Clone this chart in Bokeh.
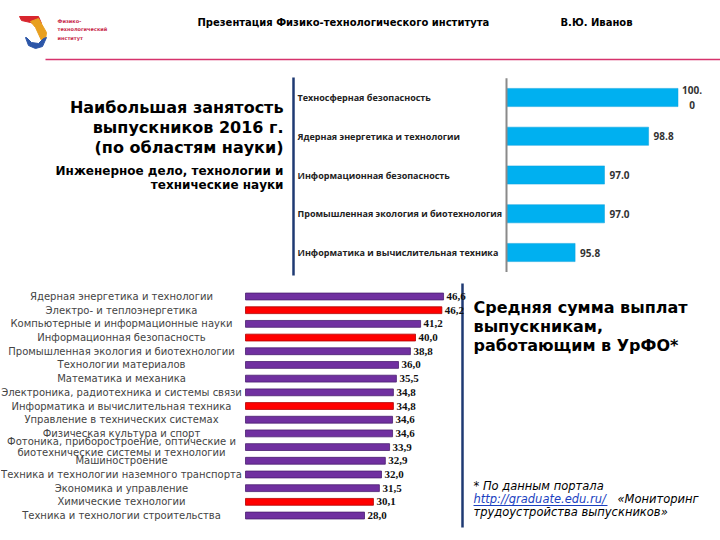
from bokeh.plotting import figure
from bokeh.layouts import column, row
from bokeh.models import Range1d
from bokeh.core.properties import value
from bokeh.embed import file_html
from bokeh.resources import INLINE

# ---------------- data ----------------
top_categories = [
    "Техносферная безопасность",
    "Ядерная энергетика и технологии",
    "Информационная безопасность",
    "Промышленная экология и биотехнология",
    "Информатика и вычислительная техника",
]
top_values = [100.0, 98.8, 97.0, 97.0, 95.8]

salary_categories = [
    "Ядерная энергетика и технологии",
    "Электро- и теплоэнергетика",
    "Компьютерные и информационные науки",
    "Информационная безопасность",
    "Промышленная экология и биотехнологии",
    "Технологии материалов",
    "Математика и механика",
    "Электроника, радиотехника и системы связи",
    "Информатика и вычислительная техника",
    "Управление в технических системах",
    "Физическая культура и спорт",
    "Фотоника, приборостроение, оптические и\nбиотехнические системы и технологии",
    "Машиностроение",
    "Техника и технологии наземного транспорта",
    "Экономика и управление",
    "Химические технологии",
    "Техника и технологии строительства",
]
salary_values = [46.6, 46.2, 41.2, 40.0, 38.8, 36.0, 35.5, 34.8, 34.8, 34.6,
                 34.6, 33.9, 32.9, 32.0, 31.5, 30.1, 28.0]
salary_highlight = [False, True, False, True, False, False, False, False, True,
                    False, False, False, False, False, False, True, False]

NAVY = "#1f3a73"
FONT = "DejaVu Sans"


def blank(w, h, xr, yr):
    p = figure(width=w, height=h, x_range=xr, y_range=yr, output_backend="svg",
               toolbar_location=None, min_border=0,
               x_axis_location=None, y_axis_location=None)
    p.grid.visible = False
    p.outline_line_color = None
    p.background_fill_color = "white"
    p.border_fill_color = "white"
    return p


def txt(p, x, y, s, size, color="#000000", style="normal", font=FONT,
        align="left", baseline="middle"):
    p.text(x=[x], y=[y], text=[s], text_font=value(font),
           text_font_size=f"{size}px", text_font_style=style,
           text_color=color, text_align=align, text_baseline=baseline)


# ---------------- header ----------------
hdr = blank(720, 68, Range1d(0, 720), Range1d(68, 0))
hdr.patch([19, 38, 41, 36, 30, 21], [16, 16, 23, 24, 22, 20], color="#d8262e")
hdr.patch([30, 38, 46, 45, 41, 35], [21, 18, 32, 39, 40, 27], color="#e8a020")
hdr.patch([25, 28, 35, 42, 46, 43, 38, 31, 26], [37, 45, 48, 46, 37, 38, 43, 42, 37],
          color="#2c56a8")
txt(hdr, 57, 20, "Физико-", 5, color="#c8284a", style="bold")
txt(hdr, 57, 28.5, "технологический", 5, color="#c8284a", style="bold")
txt(hdr, 57, 37, "институт", 5, color="#c8284a", style="bold")
txt(hdr, 197, 22, "Презентация Физико-технологического института", 10, style="bold")
txt(hdr, 560, 22, "В.Ю. Иванов", 10, style="bold")
hdr.segment(x0=[45], y0=[59], x1=[720], y1=[59], line_color="#d6336c", line_width=1.5)

# ---------------- middle left: titles ----------------
ml = blank(290, 210, Range1d(0, 290), Range1d(278, 68))
txt(ml, 283, 107, "Наибольшая занятость", 16, style="bold", align="right")
txt(ml, 283, 127, "выпускников 2016 г.", 16, style="bold", align="right")
txt(ml, 283, 147, "(по областям науки)", 16, style="bold", align="right")
txt(ml, 283, 170, "Инженерное дело, технологии и", 12, style="bold", align="right")
txt(ml, 283, 184, "технические науки", 12, style="bold", align="right")

# ---------------- middle right: employment chart ----------------
TOP_W, TOP_H = 430, 210
TOP_MIN = 93.0          # axis minimum
TOP_PPU = 24.5          # px per unit
TOP_AXIS_PX = 216       # axis offset from frame left
TOP_FIRST, TOP_STEP = 29, 38.75
tp = blank(TOP_W, TOP_H,
           Range1d(TOP_MIN - TOP_AXIS_PX / TOP_PPU, TOP_MIN + (TOP_W - TOP_AXIS_PX) / TOP_PPU),
           Range1d((TOP_H - TOP_FIRST) / TOP_STEP, -TOP_FIRST / TOP_STEP))


def tx(px):
    return tp.x_range.start + px / TOP_PPU


def ty(py):
    return (py - TOP_FIRST) / TOP_STEP


tidx = list(range(len(top_values)))
tp.segment(x0=[tx(3)], y0=[ty(9)], x1=[tx(3)], y1=[ty(207)],
           line_color=NAVY, line_width=2.5)
tp.hbar(y=tidx, left=TOP_MIN, right=top_values, height=0.47,
        fill_color="#00b0f0", line_color="#0aa0dc", line_width=0.5)
tp.segment(x0=[TOP_MIN], y0=[-0.5], x1=[TOP_MIN], y1=[len(top_values) - 0.5],
           line_color="#8a8a8a", line_width=2)
tp.text(x=[tp.x_range.start] * len(tidx), y=tidx, text=top_categories,
        x_offset=7, text_font=value("Open Sans"), text_font_size="9px",
        text_font_style="bold", text_color="#222222",
        text_align="left", text_baseline="middle")
single = [i for i in tidx if top_values[i] < 100]
wrapped = [i for i in tidx if top_values[i] >= 100]
tp.text(x=[top_values[i] for i in single], y=single,
        text=[f"{top_values[i]:.1f}" for i in single], x_offset=5,
        text_font=value("Open Sans"), text_font_size="10px", text_font_style="bold",
        text_color="#333333", text_align="left", text_baseline="middle")
tp.text(x=[top_values[i] for i in wrapped], y=wrapped,
        text=[f"{top_values[i]:.1f}"[:-1] + "\n" + f"{top_values[i]:.1f}"[-1] for i in wrapped],
        x_offset=14, text_font=value("Open Sans"), text_font_size="10px",
        text_font_style="bold", text_color="#333333", text_align="center",
        text_baseline="middle", text_line_height=1.1)

# ---------------- bottom left: salary chart ----------------
BOT_W, BOT_H = 470, 262
BOT_ZERO_PX = 245
BOT_PPU = 4.25
BOT_FIRST, BOT_STEP = 18, 13.69
bp = blank(BOT_W, BOT_H,
           Range1d(-BOT_ZERO_PX / BOT_PPU, (BOT_W - BOT_ZERO_PX) / BOT_PPU),
           Range1d((BOT_H - BOT_FIRST) / BOT_STEP, -BOT_FIRST / BOT_STEP))
bidx = list(range(len(salary_values)))
fills = ["#ff0000" if h else "#7030a0" for h in salary_highlight]
edges = ["#b00000" if h else "#4a1f70" for h in salary_highlight]
bp.hbar(y=bidx, left=0, right=salary_values, height=0.5,
        fill_color=fills, line_color=edges, line_width=0.8)
bp.text(x=[0] * len(bidx), y=bidx, text=salary_categories, x_offset=-124,
        text_font=value(FONT), text_font_size="10px", text_color="#444444",
        text_align="center", text_baseline="middle", text_line_height=1.0)


def bx(px):
    return (px - BOT_ZERO_PX) / BOT_PPU


def by(py):
    return (py - BOT_FIRST) / BOT_STEP


bp.segment(x0=[bx(462)], y0=[by(5)], x1=[bx(462)], y1=[by(249)],
           line_color=NAVY, line_width=2.5)
bp.text(x=salary_values, y=bidx,
        text=[f"{v:.1f}".replace(".", ",") for v in salary_values], x_offset=3,
        text_font=value("Liberation Serif"), text_font_size="11px",
        text_font_style="bold", text_color="#111111",
        text_align="left", text_baseline="middle")

# ---------------- bottom right: notes ----------------
br = blank(250, 262, Range1d(470, 720), Range1d(540, 278))
txt(br, 473, 307, "Средняя сумма выплат", 16, style="bold")
txt(br, 473, 326, "выпускникам,", 16, style="bold")
txt(br, 473, 345, "работающим в УрФО*", 16, style="bold")
txt(br, 473, 485, "* По данным портала", 11.5, style="italic")
txt(br, 473, 498, "http://graduate.edu.ru/", 11.5, style="italic", color="#1a3fbf")
br.segment(x0=[473], y0=[505], x1=[607], y1=[505], line_color="#1a3fbf", line_width=1)
txt(br, 617, 498, "«Мониторинг", 11.5, style="italic")
txt(br, 473, 511, "трудоустройства выпускников»", 11.5, style="italic")

layout = column(hdr, row(ml, tp), row(bp, br))
open("out.html", "w").write(file_html(layout, INLINE))
